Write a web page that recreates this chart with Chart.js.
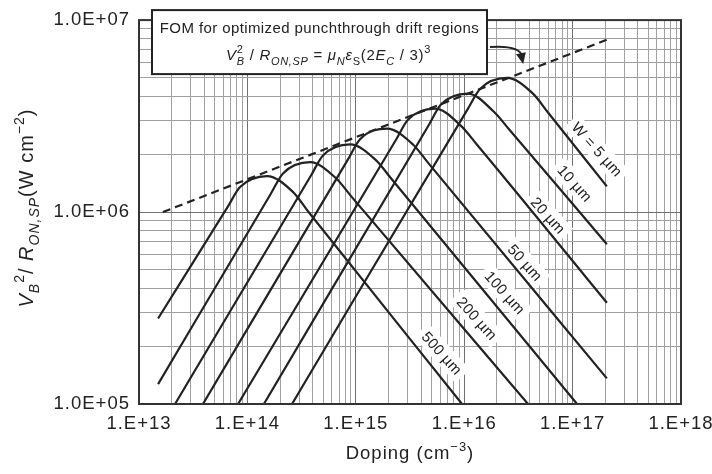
<!DOCTYPE html>
<html>
<head>
<meta charset="utf-8">
<script src="https://cdn.jsdelivr.net/npm/chart.js@4"></script>
<style>
  html, body { margin: 0; padding: 0; background: #fff; }
  canvas { display: block; }
</style>
</head>
<body>
<canvas id="fomChart" width="712" height="474"></canvas>
<script>
const fontFamily = '"Liberation Sans", Arial, Helvetica, sans-serif';
const ink = '#222';
const letterGap = '1px';

// axis decades and their labels
const xDecades = [1e13, 1e14, 1e15, 1e16, 1e17, 1e18];
const xTickLabels = ['1.E+13', '1.E+14', '1.E+15', '1.E+16', '1.E+17', '1.E+18'];
const yDecades = [1e5, 1e6, 1e7];
const yTickLabels = ['1.0E+05', '1.0E+06', '1.0E+07'];

// drift region width of each curve
const curveNames = ['W = 5 µm', '10 µm', '20 µm', '50 µm', '100 µm', '200 µm', '500 µm'];

// doping (cm^-3) and V_B^2/R_ON,SP (W cm^-2) along each curve
const dopingW5   = [2.58e14, 1.08e16, 1.40e16, 2.48e16, 4.31e16, 5.93e16, 2.07e17];
const fomW5      = [1.0e5, 3.45e6, 4.38e6, 5.0e6, 4.14e6, 3.30e6, 1.36e6];
const dopingW10  = [1.42e14, 4.73e15, 6.1e15, 1.08e16, 1.88e16, 2.59e16, 2.07e17];
const fomW10     = [1.0e5, 2.85e6, 3.63e6, 4.14e6, 3.33e6, 2.70e6, 6.8e5];
const dopingW20  = [8.2e13, 2.35e15, 3.03e15, 5.38e15, 9.3e15, 1.29e16, 2.07e17];
const fomW20     = [1.0e5, 2.38e6, 3.03e6, 3.46e6, 2.82e6, 2.27e6, 3.37e5];
const dopingW50  = [3.89e13, 8.47e14, 1.09e15, 1.94e15, 3.37e15, 4.63e15, 2.07e17];
const fomW50     = [1.0e5, 1.88e6, 2.39e6, 2.72e6, 2.25e6, 1.81e6, 1.36e5];
const dopingW100 = [2.15e13, 3.86e14, 4.98e14, 8.85e14, 1.54e15, 2.11e15, 1.10e17];
const fomW100    = [1.0e5, 1.55e6, 1.97e6, 2.25e6, 1.86e6, 1.50e6, 1.0e5];
const dopingW200 = [1.50e13, 1.65e14, 2.13e14, 3.79e14, 6.57e14, 9.04e14, 3.88e16];
const fomW200    = [1.27e5, 1.25e6, 1.59e6, 1.82e6, 1.50e6, 1.21e6, 1.0e5];
const dopingW500 = [1.50e13, 6.62e13, 8.55e13, 1.52e14, 2.64e14, 3.62e14, 9.55e15];
const fomW500    = [2.79e5, 1.07e6, 1.35e6, 1.54e6, 1.27e6, 1.01e6, 1.0e5];

// FOM limit for optimized punchthrough drift regions
const limitDoping = [1.66e13, 2.07e17];
const limitFom = [1.0e6, 7.9e6];

// where the width labels sit along the falling side
const nameDoping = [1.68e17, 1.05e17, 5.93e16, 3.64e16, 2.38e16, 1.31e16, 6.24e15];
const nameFom = [2.12e6, 1.41e6, 9.6e5, 5.45e5, 3.8e5, 2.79e5, 1.84e5];

// the callout arrow ends on the limit line here
const arrowDoping = 3.5e16;
const arrowFom = 5.9e6;

const curveDoping = [dopingW5, dopingW10, dopingW20, dopingW50, dopingW100, dopingW200, dopingW500];
const curveFom = [fomW5, fomW10, fomW20, fomW50, fomW100, fomW200, fomW500];

const toPoints = (xs, ys) => xs.map((x, i) => ({ x: x, y: ys[i] }));

const datasets = curveDoping.map((xs, i) => ({
  label: curveNames[i],
  data: toPoints(xs, curveFom[i]),
  borderColor: ink,
  borderWidth: 2.2,
  cubicInterpolationMode: 'monotone',
  pointRadius: 0
}));
datasets.push({
  label: 'FOM limit',
  data: toPoints(limitDoping, limitFom),
  borderColor: ink,
  borderWidth: 2.2,
  borderDash: [8, 5],
  pointRadius: 0
});

// 1..9 per decade, so the grid gets its minor lines
function logTicks(decades) {
  const ticks = [];
  decades.forEach((d, i) => {
    if (i === decades.length - 1) {
      ticks.push({ value: d, major: true });
      return;
    }
    for (let k = 1; k < 10; k++) ticks.push({ value: k * d, major: k === 1 });
  });
  return ticks;
}

function decadeLabel(value, decades, labels) {
  const i = decades.findIndex(d => Math.abs(d - value) / d < 1e-9);
  return i < 0 ? '' : labels[i];
}

// text with italics, subscripts and superscripts
function drawRich(ctx, parts, x, y, size, align) {
  const fontFor = p => (p.it ? 'italic ' : '') + ((p.sub || p.sup) ? Math.round(size * 0.72) : size) + 'px ' + fontFamily;
  let w = 0, prevStart = 0;
  const placed = [];
  parts.forEach(p => {
    ctx.font = fontFor(p);
    const pw = ctx.measureText(p.t).width;
    let px;
    if (p.stack) { px = prevStart; w = Math.max(w, px + pw); }
    else { px = w; w += pw; }
    placed.push({ p: p, px: px });
    prevStart = px;
  });
  const x0 = align === 'center' ? x - w / 2 : x;
  ctx.textAlign = 'left';
  ctx.textBaseline = 'alphabetic';
  placed.forEach(({ p, px }) => {
    ctx.font = fontFor(p);
    const dy = p.sub ? size * 0.32 : p.sup ? -size * 0.45 : 0;
    ctx.fillText(p.t, x0 + px, y + dy);
  });
}

// a little tracking on the axis labels, the way the printed figure looks
const spacing = {
  id: 'spacing',
  beforeLayout(chart) { chart.ctx.letterSpacing = letterGap; },
  beforeDraw(chart) { chart.ctx.letterSpacing = letterGap; }
};

const decorations = {
  id: 'decorations',
  beforeDatasetsDraw(chart) {
    // width labels on white patches, under the curves
    const ctx = chart.ctx;
    const xs = chart.scales.x, ys = chart.scales.y;
    ctx.save();
    ctx.letterSpacing = '0.3px';
    ctx.font = '15px ' + fontFamily;
    curveNames.forEach((name, i) => {
      const px = xs.getPixelForValue(nameDoping[i]);
      const py = ys.getPixelForValue(nameFom[i]);
      const w = ctx.measureText(name).width;
      ctx.save();
      ctx.translate(px, py);
      ctx.rotate(48 * Math.PI / 180);
      ctx.fillStyle = '#fff';
      ctx.fillRect(-w / 2 - 5, -10, w + 10, 20);
      ctx.fillStyle = ink;
      ctx.textAlign = 'center';
      ctx.textBaseline = 'middle';
      ctx.fillText(name, 0, 1);
      ctx.restore();
    });
    ctx.restore();
  },
  afterDraw(chart) {
    const ctx = chart.ctx;
    const area = chart.chartArea;
    const xs = chart.scales.x, ys = chart.scales.y;
    ctx.save();

    // plot frame
    ctx.strokeStyle = '#333';
    ctx.lineWidth = 2;
    ctx.strokeRect(area.left, area.top, area.right - area.left, area.bottom - area.top);

    // callout box with the FOM expression
    const bx = area.left + 13, by = area.top - 10, bw = 335, bh = 64;
    ctx.fillStyle = '#fff';
    ctx.fillRect(bx, by, bw, bh);
    ctx.strokeStyle = ink;
    ctx.lineWidth = 2;
    ctx.strokeRect(bx, by, bw, bh);
    ctx.fillStyle = ink;
    ctx.letterSpacing = '0.4px';
    ctx.font = '15px ' + fontFamily;
    ctx.textAlign = 'center';
    ctx.textBaseline = 'alphabetic';
    ctx.fillText('FOM for optimized punchthrough drift regions', bx + bw / 2, by + 23);
    ctx.letterSpacing = '0.7px';
    drawRich(ctx, [
      { t: 'V', it: true },
      { t: 'B', it: true, sub: true },
      { t: '2', sup: true, stack: true },
      { t: ' / ' },
      { t: 'R', it: true },
      { t: 'ON,SP', it: true, sub: true },
      { t: ' = ' },
      { t: 'μ', it: true },
      { t: 'N', it: true, sub: true },
      { t: 'ε', it: true },
      { t: 'S', sub: true },
      { t: '(2' },
      { t: 'E', it: true },
      { t: 'C', it: true, sub: true },
      { t: ' / 3)' },
      { t: '3', sup: true }
    ], bx + bw / 2 + 9, by + 50, 15, 'center');

    // curved arrow from the box to the limit line
    const tx = xs.getPixelForValue(arrowDoping), ty = ys.getPixelForValue(arrowFom);
    const sx = bx + bw + 3, sy = by + 37;
    const cx = tx - 4, cy = sy - 2;
    ctx.strokeStyle = ink;
    ctx.lineWidth = 2;
    ctx.beginPath();
    ctx.moveTo(sx, sy);
    ctx.quadraticCurveTo(cx, cy, tx - 1, ty - 8);
    ctx.stroke();
    const ang = Math.atan2(ty - cy, tx - cx);
    ctx.beginPath();
    ctx.moveTo(tx, ty);
    ctx.lineTo(tx - 11 * Math.cos(ang) + 5 * Math.sin(ang), ty - 11 * Math.sin(ang) - 5 * Math.cos(ang));
    ctx.lineTo(tx - 11 * Math.cos(ang) - 5 * Math.sin(ang), ty - 11 * Math.sin(ang) + 5 * Math.cos(ang));
    ctx.closePath();
    ctx.fillStyle = ink;
    ctx.fill();

    // axis titles
    ctx.letterSpacing = letterGap;
    ctx.fillStyle = ink;
    drawRich(ctx, [
      { t: 'Doping (cm' },
      { t: '−3', sup: true },
      { t: ')' }
    ], (area.left + area.right) / 2, 459, 18.5, 'center');

    ctx.translate(27, (area.top + area.bottom) / 2 - 4);
    ctx.rotate(-Math.PI / 2);
    drawRich(ctx, [
      { t: 'V', it: true },
      { t: 'B', it: true, sub: true },
      { t: '2', sup: true },
      { t: '/ ' },
      { t: 'R', it: true },
      { t: 'ON,SP', it: true, sub: true },
      { t: '(W cm' },
      { t: '−2', sup: true },
      { t: ')' }
    ], 0, 6, 20, 'center');

    ctx.restore();
  }
};

const gridColor = ctx => (ctx.tick && ctx.tick.major) ? '#707070' : '#a0a0a0';
const tickFont = { family: fontFamily, size: 18.5 };

new Chart(document.getElementById('fomChart'), {
  type: 'line',
  data: { datasets: datasets },
  options: {
    responsive: false,
    animation: false,
    layout: { padding: { top: 18, right: 31, left: 0, bottom: 0 } },
    plugins: { legend: { display: false }, tooltip: { enabled: false } },
    scales: {
      x: {
        type: 'logarithmic',
        min: xDecades[0],
        max: xDecades[xDecades.length - 1],
        afterBuildTicks: scale => { scale.ticks = logTicks(xDecades); },
        afterFit: scale => {
          scale.height = 70;
          scale.paddingLeft = 0;
          scale.paddingRight = 0;
        },
        grid: { color: gridColor, lineWidth: 1, drawTicks: false },
        border: { display: false },
        ticks: {
          autoSkip: false, maxRotation: 0, minRotation: 0, padding: 9,
          color: ink, font: tickFont,
          callback: value => decadeLabel(value, xDecades, xTickLabels)
        }
      },
      y: {
        type: 'logarithmic',
        min: yDecades[0],
        max: yDecades[yDecades.length - 1],
        afterBuildTicks: scale => { scale.ticks = logTicks(yDecades); },
        afterFit: scale => { scale.width = 139; },
        grid: { color: gridColor, lineWidth: 1, drawTicks: false },
        border: { display: false },
        ticks: {
          autoSkip: false, padding: 9,
          color: ink, font: tickFont,
          callback: value => decadeLabel(value, yDecades, yTickLabels)
        }
      }
    }
  },
  plugins: [spacing, decorations]
});
</script>
</body>
</html>
